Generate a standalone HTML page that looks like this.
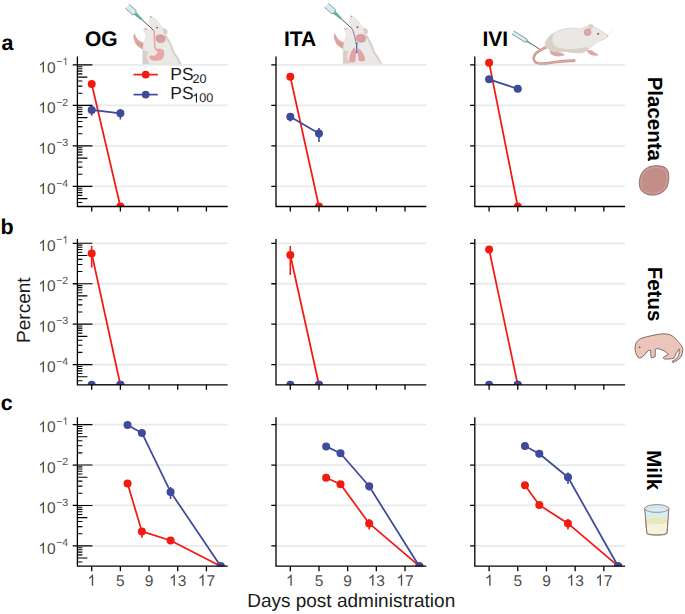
<!DOCTYPE html>
<html><head><meta charset="utf-8"><style>
html,body{margin:0;padding:0;background:#fff;}
svg{display:block;font-family:"Liberation Sans",sans-serif;text-rendering:geometricPrecision;}
</style></head><body>
<svg width="685" height="614" viewBox="0 0 685 614">
<rect width="685" height="614" fill="#fff"/>
<defs><clipPath id="p00"><rect x="77.4" y="46.4" width="150.3" height="160.1"/></clipPath><clipPath id="p01"><rect x="276" y="46.4" width="150.3" height="160.1"/></clipPath><clipPath id="p02"><rect x="474.8" y="46.4" width="150.3" height="160.1"/></clipPath><clipPath id="p10"><rect x="77.4" y="229.1" width="150.3" height="155.7"/></clipPath><clipPath id="p11"><rect x="276" y="229.1" width="150.3" height="155.7"/></clipPath><clipPath id="p12"><rect x="474.8" y="229.1" width="150.3" height="155.7"/></clipPath><clipPath id="p20"><rect x="77.4" y="407.2" width="150.3" height="159"/></clipPath><clipPath id="p21"><rect x="276" y="407.2" width="150.3" height="159"/></clipPath><clipPath id="p22"><rect x="474.8" y="407.2" width="150.3" height="159"/></clipPath></defs>
<line x1="77.4" y1="64.9" x2="227.7" y2="64.9" stroke="#EAEAEA" stroke-width="1.8"/>
<line x1="77.4" y1="105.4" x2="227.7" y2="105.4" stroke="#EAEAEA" stroke-width="1.8"/>
<line x1="77.4" y1="145.9" x2="227.7" y2="145.9" stroke="#EAEAEA" stroke-width="1.8"/>
<line x1="77.4" y1="186.4" x2="227.7" y2="186.4" stroke="#EAEAEA" stroke-width="1.8"/>
<path d="M77.4 202.52h5M77.4 198.59h10M77.4 195.38h5M77.4 192.67h5M77.4 190.32h5M77.4 188.25h5M77.4 186.4h15M77.4 174.21h5M77.4 167.08h5M77.4 162.02h5M77.4 158.09h10M77.4 154.88h5M77.4 152.17h5M77.4 149.82h5M77.4 147.75h5M77.4 145.9h15M77.4 133.71h5M77.4 126.58h5M77.4 121.52h5M77.4 117.59h10M77.4 114.38h5M77.4 111.67h5M77.4 109.32h5M77.4 107.25h5M77.4 105.4h15M77.4 93.21h5M77.4 86.08h5M77.4 81.02h5M77.4 77.09h10M77.4 73.88h5M77.4 71.17h5M77.4 68.82h5M77.4 66.75h5M77.4 64.9h15" stroke="#000000" stroke-width="1.1" fill="none"/>
<path d="M72.7 64.9H77.4M72.7 105.4H77.4M72.7 145.9H77.4M72.7 186.4H77.4" stroke="#000000" stroke-width="1.3" fill="none"/>
<path d="M91.7 206.5v5M120.38 206.5v5M149.06 206.5v5M177.74 206.5v5M206.42 206.5v5" stroke="#000000" stroke-width="1.3" fill="none"/>
<g clip-path="url(#p00)"><polyline points="91.7,84 120.38,206.5" fill="none" stroke="#F31A10" stroke-width="1.75" stroke-linejoin="round"/><polyline points="91.7,109.9 120.38,113.3" fill="none" stroke="#3E4A9A" stroke-width="1.75" stroke-linejoin="round"/><line x1="91.7" y1="106.4" x2="91.7" y2="115.7" stroke="#3E4A9A" stroke-width="1.6"/><line x1="120.38" y1="109.2" x2="120.38" y2="119.6" stroke="#3E4A9A" stroke-width="1.6"/><circle cx="91.7" cy="84" r="4.0" fill="#F31A10"/><circle cx="120.38" cy="206.5" r="4.0" fill="#F31A10"/><circle cx="91.7" cy="109.9" r="4.0" fill="#3E4A9A"/><circle cx="120.38" cy="113.3" r="4.0" fill="#3E4A9A"/></g>
<path d="M77.4 56.4V206.5H227.7" stroke="#000000" stroke-width="1.3" fill="none" stroke-linejoin="miter"/>
<line x1="276" y1="64.9" x2="426.3" y2="64.9" stroke="#EAEAEA" stroke-width="1.8"/>
<line x1="276" y1="105.4" x2="426.3" y2="105.4" stroke="#EAEAEA" stroke-width="1.8"/>
<line x1="276" y1="145.9" x2="426.3" y2="145.9" stroke="#EAEAEA" stroke-width="1.8"/>
<line x1="276" y1="186.4" x2="426.3" y2="186.4" stroke="#EAEAEA" stroke-width="1.8"/>
<path d="M271.3 64.9H276M271.3 105.4H276M271.3 145.9H276M271.3 186.4H276" stroke="#000000" stroke-width="1.3" fill="none"/>
<path d="M290.3 206.5v5M318.98 206.5v5M347.66 206.5v5M376.34 206.5v5M405.02 206.5v5" stroke="#000000" stroke-width="1.3" fill="none"/>
<g clip-path="url(#p01)"><polyline points="290.3,76.7 318.98,206.5" fill="none" stroke="#F31A10" stroke-width="1.75" stroke-linejoin="round"/><polyline points="290.3,116.7 318.98,133.4" fill="none" stroke="#3E4A9A" stroke-width="1.75" stroke-linejoin="round"/><line x1="290.3" y1="114" x2="290.3" y2="121.6" stroke="#3E4A9A" stroke-width="1.6"/><line x1="318.98" y1="128.1" x2="318.98" y2="141.9" stroke="#3E4A9A" stroke-width="1.6"/><circle cx="290.3" cy="76.7" r="4.0" fill="#F31A10"/><circle cx="318.98" cy="206.5" r="4.0" fill="#F31A10"/><circle cx="290.3" cy="116.7" r="4.0" fill="#3E4A9A"/><circle cx="318.98" cy="133.4" r="4.0" fill="#3E4A9A"/></g>
<path d="M276 56.4V206.5H426.3" stroke="#000000" stroke-width="1.3" fill="none" stroke-linejoin="miter"/>
<line x1="474.8" y1="64.9" x2="625.1" y2="64.9" stroke="#EAEAEA" stroke-width="1.8"/>
<line x1="474.8" y1="105.4" x2="625.1" y2="105.4" stroke="#EAEAEA" stroke-width="1.8"/>
<line x1="474.8" y1="145.9" x2="625.1" y2="145.9" stroke="#EAEAEA" stroke-width="1.8"/>
<line x1="474.8" y1="186.4" x2="625.1" y2="186.4" stroke="#EAEAEA" stroke-width="1.8"/>
<path d="M470.1 64.9H474.8M470.1 105.4H474.8M470.1 145.9H474.8M470.1 186.4H474.8" stroke="#000000" stroke-width="1.3" fill="none"/>
<path d="M489.1 206.5v5M517.78 206.5v5M546.46 206.5v5M575.14 206.5v5M603.82 206.5v5" stroke="#000000" stroke-width="1.3" fill="none"/>
<g clip-path="url(#p02)"><polyline points="489.1,62.7 517.78,206.5" fill="none" stroke="#F31A10" stroke-width="1.75" stroke-linejoin="round"/><polyline points="489.1,79.3 517.78,88.8" fill="none" stroke="#3E4A9A" stroke-width="1.75" stroke-linejoin="round"/><circle cx="489.1" cy="62.7" r="4.0" fill="#F31A10"/><circle cx="517.78" cy="206.5" r="4.0" fill="#F31A10"/><circle cx="489.1" cy="79.3" r="4.0" fill="#3E4A9A"/><circle cx="517.78" cy="88.8" r="4.0" fill="#3E4A9A"/></g>
<path d="M474.8 56.4V206.5H625.1" stroke="#000000" stroke-width="1.3" fill="none" stroke-linejoin="miter"/>
<path transform="translate(38.26,72.6) scale(0.007568,-0.007568)" d="M763 0H583V1147Q518 1085 412.5 1023T223 930V1104Q374 1175 487 1276T647 1472H763V0Z" fill="#4D4D4D"/><text x="46.88" y="72.6" font-size="15.5" fill="#4D4D4D">0</text>
<text x="56.23" y="65" font-size="10.5" fill="#4D4D4D">−</text><path transform="translate(62.36,65) scale(0.005127,-0.005127)" d="M763 0H583V1147Q518 1085 412.5 1023T223 930V1104Q374 1175 487 1276T647 1472H763V0Z" fill="#4D4D4D"/>
<path transform="translate(38.26,113.1) scale(0.007568,-0.007568)" d="M763 0H583V1147Q518 1085 412.5 1023T223 930V1104Q374 1175 487 1276T647 1472H763V0Z" fill="#4D4D4D"/><text x="46.88" y="113.1" font-size="15.5" fill="#4D4D4D">0</text>
<text x="56.23" y="105.5" font-size="10.5" fill="#4D4D4D">−2</text>
<path transform="translate(38.26,153.6) scale(0.007568,-0.007568)" d="M763 0H583V1147Q518 1085 412.5 1023T223 930V1104Q374 1175 487 1276T647 1472H763V0Z" fill="#4D4D4D"/><text x="46.88" y="153.6" font-size="15.5" fill="#4D4D4D">0</text>
<text x="56.23" y="146" font-size="10.5" fill="#4D4D4D">−3</text>
<path transform="translate(38.26,194.1) scale(0.007568,-0.007568)" d="M763 0H583V1147Q518 1085 412.5 1023T223 930V1104Q374 1175 487 1276T647 1472H763V0Z" fill="#4D4D4D"/><text x="46.88" y="194.1" font-size="15.5" fill="#4D4D4D">0</text>
<text x="56.23" y="186.5" font-size="10.5" fill="#4D4D4D">−4</text>
<line x1="77.4" y1="243.3" x2="227.7" y2="243.3" stroke="#EAEAEA" stroke-width="1.8"/>
<line x1="77.4" y1="283.73" x2="227.7" y2="283.73" stroke="#EAEAEA" stroke-width="1.8"/>
<line x1="77.4" y1="324.16" x2="227.7" y2="324.16" stroke="#EAEAEA" stroke-width="1.8"/>
<line x1="77.4" y1="364.59" x2="227.7" y2="364.59" stroke="#EAEAEA" stroke-width="1.8"/>
<path d="M77.4 380.68h5M77.4 376.76h10M77.4 373.56h5M77.4 370.85h5M77.4 368.51h5M77.4 366.44h5M77.4 364.59h15M77.4 352.42h5M77.4 345.3h5M77.4 340.25h5M77.4 336.33h10M77.4 333.13h5M77.4 330.42h5M77.4 328.08h5M77.4 326.01h5M77.4 324.16h15M77.4 311.99h5M77.4 304.87h5M77.4 299.82h5M77.4 295.9h10M77.4 292.7h5M77.4 289.99h5M77.4 287.65h5M77.4 285.58h5M77.4 283.73h15M77.4 271.56h5M77.4 264.44h5M77.4 259.39h5M77.4 255.47h10M77.4 252.27h5M77.4 249.56h5M77.4 247.22h5M77.4 245.15h5M77.4 243.3h15" stroke="#000000" stroke-width="1.1" fill="none"/>
<path d="M72.7 243.3H77.4M72.7 283.73H77.4M72.7 324.16H77.4M72.7 364.59H77.4" stroke="#000000" stroke-width="1.3" fill="none"/>
<path d="M91.7 384.8v5M120.38 384.8v5M149.06 384.8v5M177.74 384.8v5M206.42 384.8v5" stroke="#000000" stroke-width="1.3" fill="none"/>
<g clip-path="url(#p10)"><polyline points="91.7,253.4 120.38,384.8" fill="none" stroke="#F31A10" stroke-width="1.75" stroke-linejoin="round"/><polyline points="91.7,384.8 120.38,384.8" fill="none" stroke="#3E4A9A" stroke-width="1.75" stroke-linejoin="round"/><line x1="91.7" y1="246.1" x2="91.7" y2="267.6" stroke="#F31A10" stroke-width="1.6"/><circle cx="91.7" cy="253.4" r="4.0" fill="#F31A10"/><circle cx="120.38" cy="384.8" r="4.0" fill="#F31A10"/><circle cx="91.7" cy="384.8" r="4.0" fill="#3E4A9A"/><circle cx="120.38" cy="384.8" r="4.0" fill="#3E4A9A"/></g>
<path d="M77.4 239.1V384.8H227.7" stroke="#000000" stroke-width="1.3" fill="none" stroke-linejoin="miter"/>
<line x1="276" y1="243.3" x2="426.3" y2="243.3" stroke="#EAEAEA" stroke-width="1.8"/>
<line x1="276" y1="283.73" x2="426.3" y2="283.73" stroke="#EAEAEA" stroke-width="1.8"/>
<line x1="276" y1="324.16" x2="426.3" y2="324.16" stroke="#EAEAEA" stroke-width="1.8"/>
<line x1="276" y1="364.59" x2="426.3" y2="364.59" stroke="#EAEAEA" stroke-width="1.8"/>
<path d="M271.3 243.3H276M271.3 283.73H276M271.3 324.16H276M271.3 364.59H276" stroke="#000000" stroke-width="1.3" fill="none"/>
<path d="M290.3 384.8v5M318.98 384.8v5M347.66 384.8v5M376.34 384.8v5M405.02 384.8v5" stroke="#000000" stroke-width="1.3" fill="none"/>
<g clip-path="url(#p11)"><polyline points="290.3,255 318.98,384.8" fill="none" stroke="#F31A10" stroke-width="1.75" stroke-linejoin="round"/><polyline points="290.3,384.8 318.98,384.8" fill="none" stroke="#3E4A9A" stroke-width="1.75" stroke-linejoin="round"/><line x1="290.3" y1="246" x2="290.3" y2="274.9" stroke="#F31A10" stroke-width="1.6"/><circle cx="290.3" cy="255" r="4.0" fill="#F31A10"/><circle cx="318.98" cy="384.8" r="4.0" fill="#F31A10"/><circle cx="290.3" cy="384.8" r="4.0" fill="#3E4A9A"/><circle cx="318.98" cy="384.8" r="4.0" fill="#3E4A9A"/></g>
<path d="M276 239.1V384.8H426.3" stroke="#000000" stroke-width="1.3" fill="none" stroke-linejoin="miter"/>
<line x1="474.8" y1="243.3" x2="625.1" y2="243.3" stroke="#EAEAEA" stroke-width="1.8"/>
<line x1="474.8" y1="283.73" x2="625.1" y2="283.73" stroke="#EAEAEA" stroke-width="1.8"/>
<line x1="474.8" y1="324.16" x2="625.1" y2="324.16" stroke="#EAEAEA" stroke-width="1.8"/>
<line x1="474.8" y1="364.59" x2="625.1" y2="364.59" stroke="#EAEAEA" stroke-width="1.8"/>
<path d="M470.1 243.3H474.8M470.1 283.73H474.8M470.1 324.16H474.8M470.1 364.59H474.8" stroke="#000000" stroke-width="1.3" fill="none"/>
<path d="M489.1 384.8v5M517.78 384.8v5M546.46 384.8v5M575.14 384.8v5M603.82 384.8v5" stroke="#000000" stroke-width="1.3" fill="none"/>
<g clip-path="url(#p12)"><polyline points="489.1,249.5 517.78,384.8" fill="none" stroke="#F31A10" stroke-width="1.75" stroke-linejoin="round"/><polyline points="489.1,384.8 517.78,384.8" fill="none" stroke="#3E4A9A" stroke-width="1.75" stroke-linejoin="round"/><circle cx="489.1" cy="249.5" r="4.0" fill="#F31A10"/><circle cx="517.78" cy="384.8" r="4.0" fill="#F31A10"/><circle cx="489.1" cy="384.8" r="4.0" fill="#3E4A9A"/><circle cx="517.78" cy="384.8" r="4.0" fill="#3E4A9A"/></g>
<path d="M474.8 239.1V384.8H625.1" stroke="#000000" stroke-width="1.3" fill="none" stroke-linejoin="miter"/>
<path transform="translate(38.26,251) scale(0.007568,-0.007568)" d="M763 0H583V1147Q518 1085 412.5 1023T223 930V1104Q374 1175 487 1276T647 1472H763V0Z" fill="#4D4D4D"/><text x="46.88" y="251" font-size="15.5" fill="#4D4D4D">0</text>
<text x="56.23" y="243.4" font-size="10.5" fill="#4D4D4D">−</text><path transform="translate(62.36,243.4) scale(0.005127,-0.005127)" d="M763 0H583V1147Q518 1085 412.5 1023T223 930V1104Q374 1175 487 1276T647 1472H763V0Z" fill="#4D4D4D"/>
<path transform="translate(38.26,291.43) scale(0.007568,-0.007568)" d="M763 0H583V1147Q518 1085 412.5 1023T223 930V1104Q374 1175 487 1276T647 1472H763V0Z" fill="#4D4D4D"/><text x="46.88" y="291.43" font-size="15.5" fill="#4D4D4D">0</text>
<text x="56.23" y="283.83" font-size="10.5" fill="#4D4D4D">−2</text>
<path transform="translate(38.26,331.86) scale(0.007568,-0.007568)" d="M763 0H583V1147Q518 1085 412.5 1023T223 930V1104Q374 1175 487 1276T647 1472H763V0Z" fill="#4D4D4D"/><text x="46.88" y="331.86" font-size="15.5" fill="#4D4D4D">0</text>
<text x="56.23" y="324.26" font-size="10.5" fill="#4D4D4D">−3</text>
<path transform="translate(38.26,372.29) scale(0.007568,-0.007568)" d="M763 0H583V1147Q518 1085 412.5 1023T223 930V1104Q374 1175 487 1276T647 1472H763V0Z" fill="#4D4D4D"/><text x="46.88" y="372.29" font-size="15.5" fill="#4D4D4D">0</text>
<text x="56.23" y="364.69" font-size="10.5" fill="#4D4D4D">−4</text>
<line x1="77.4" y1="424.6" x2="227.7" y2="424.6" stroke="#EAEAEA" stroke-width="1.8"/>
<line x1="77.4" y1="465.03" x2="227.7" y2="465.03" stroke="#EAEAEA" stroke-width="1.8"/>
<line x1="77.4" y1="505.46" x2="227.7" y2="505.46" stroke="#EAEAEA" stroke-width="1.8"/>
<line x1="77.4" y1="545.89" x2="227.7" y2="545.89" stroke="#EAEAEA" stroke-width="1.8"/>
<path d="M77.4 561.98h5M77.4 558.06h10M77.4 554.86h5M77.4 552.15h5M77.4 549.81h5M77.4 547.74h5M77.4 545.89h15M77.4 533.72h5M77.4 526.6h5M77.4 521.55h5M77.4 517.63h10M77.4 514.43h5M77.4 511.72h5M77.4 509.38h5M77.4 507.31h5M77.4 505.46h15M77.4 493.29h5M77.4 486.17h5M77.4 481.12h5M77.4 477.2h10M77.4 474h5M77.4 471.29h5M77.4 468.95h5M77.4 466.88h5M77.4 465.03h15M77.4 452.86h5M77.4 445.74h5M77.4 440.69h5M77.4 436.77h10M77.4 433.57h5M77.4 430.86h5M77.4 428.52h5M77.4 426.45h5M77.4 424.6h15" stroke="#000000" stroke-width="1.1" fill="none"/>
<path d="M72.7 424.6H77.4M72.7 465.03H77.4M72.7 505.46H77.4M72.7 545.89H77.4" stroke="#000000" stroke-width="1.3" fill="none"/>
<path d="M91.7 566.2v5M120.38 566.2v5M149.06 566.2v5M177.74 566.2v5M206.42 566.2v5" stroke="#000000" stroke-width="1.3" fill="none"/>
<g clip-path="url(#p20)"><polyline points="127.55,483.6 141.89,531.4 170.57,540.5 220.76,566.2" fill="none" stroke="#F31A10" stroke-width="1.75" stroke-linejoin="round"/><polyline points="127.55,425 141.89,432.9 170.57,491.9 220.76,566.2" fill="none" stroke="#3E4A9A" stroke-width="1.75" stroke-linejoin="round"/><line x1="141.89" y1="528" x2="141.89" y2="537.8" stroke="#F31A10" stroke-width="1.6"/><line x1="170.57" y1="487" x2="170.57" y2="499" stroke="#3E4A9A" stroke-width="1.6"/><circle cx="127.55" cy="483.6" r="4.0" fill="#F31A10"/><circle cx="141.89" cy="531.4" r="4.0" fill="#F31A10"/><circle cx="170.57" cy="540.5" r="4.0" fill="#F31A10"/><circle cx="220.76" cy="566.2" r="4.0" fill="#F31A10"/><circle cx="127.55" cy="425" r="4.0" fill="#3E4A9A"/><circle cx="141.89" cy="432.9" r="4.0" fill="#3E4A9A"/><circle cx="170.57" cy="491.9" r="4.0" fill="#3E4A9A"/><circle cx="220.76" cy="566.2" r="4.0" fill="#3E4A9A"/></g>
<path d="M77.4 417.2V566.2H227.7" stroke="#000000" stroke-width="1.3" fill="none" stroke-linejoin="miter"/>
<line x1="276" y1="424.6" x2="426.3" y2="424.6" stroke="#EAEAEA" stroke-width="1.8"/>
<line x1="276" y1="465.03" x2="426.3" y2="465.03" stroke="#EAEAEA" stroke-width="1.8"/>
<line x1="276" y1="505.46" x2="426.3" y2="505.46" stroke="#EAEAEA" stroke-width="1.8"/>
<line x1="276" y1="545.89" x2="426.3" y2="545.89" stroke="#EAEAEA" stroke-width="1.8"/>
<path d="M271.3 424.6H276M271.3 465.03H276M271.3 505.46H276M271.3 545.89H276" stroke="#000000" stroke-width="1.3" fill="none"/>
<path d="M290.3 566.2v5M318.98 566.2v5M347.66 566.2v5M376.34 566.2v5M405.02 566.2v5" stroke="#000000" stroke-width="1.3" fill="none"/>
<g clip-path="url(#p21)"><polyline points="326.15,477.7 340.49,484.3 369.17,523.4 419.36,566.2" fill="none" stroke="#F31A10" stroke-width="1.75" stroke-linejoin="round"/><polyline points="326.15,446.4 340.49,453.2 369.17,486.3 419.36,566.2" fill="none" stroke="#3E4A9A" stroke-width="1.75" stroke-linejoin="round"/><line x1="369.17" y1="519" x2="369.17" y2="529.5" stroke="#F31A10" stroke-width="1.6"/><line x1="369.17" y1="483" x2="369.17" y2="490.6" stroke="#3E4A9A" stroke-width="1.6"/><circle cx="326.15" cy="477.7" r="4.0" fill="#F31A10"/><circle cx="340.49" cy="484.3" r="4.0" fill="#F31A10"/><circle cx="369.17" cy="523.4" r="4.0" fill="#F31A10"/><circle cx="419.36" cy="566.2" r="4.0" fill="#F31A10"/><circle cx="326.15" cy="446.4" r="4.0" fill="#3E4A9A"/><circle cx="340.49" cy="453.2" r="4.0" fill="#3E4A9A"/><circle cx="369.17" cy="486.3" r="4.0" fill="#3E4A9A"/><circle cx="419.36" cy="566.2" r="4.0" fill="#3E4A9A"/></g>
<path d="M276 417.2V566.2H426.3" stroke="#000000" stroke-width="1.3" fill="none" stroke-linejoin="miter"/>
<line x1="474.8" y1="424.6" x2="625.1" y2="424.6" stroke="#EAEAEA" stroke-width="1.8"/>
<line x1="474.8" y1="465.03" x2="625.1" y2="465.03" stroke="#EAEAEA" stroke-width="1.8"/>
<line x1="474.8" y1="505.46" x2="625.1" y2="505.46" stroke="#EAEAEA" stroke-width="1.8"/>
<line x1="474.8" y1="545.89" x2="625.1" y2="545.89" stroke="#EAEAEA" stroke-width="1.8"/>
<path d="M470.1 424.6H474.8M470.1 465.03H474.8M470.1 505.46H474.8M470.1 545.89H474.8" stroke="#000000" stroke-width="1.3" fill="none"/>
<path d="M489.1 566.2v5M517.78 566.2v5M546.46 566.2v5M575.14 566.2v5M603.82 566.2v5" stroke="#000000" stroke-width="1.3" fill="none"/>
<g clip-path="url(#p22)"><polyline points="524.95,485.2 539.29,505 567.97,523.4 618.16,566.2" fill="none" stroke="#F31A10" stroke-width="1.75" stroke-linejoin="round"/><polyline points="524.95,446.1 539.29,453.7 567.97,477.3 618.16,566.2" fill="none" stroke="#3E4A9A" stroke-width="1.75" stroke-linejoin="round"/><line x1="567.97" y1="518.9" x2="567.97" y2="529.5" stroke="#F31A10" stroke-width="1.6"/><line x1="567.97" y1="472.5" x2="567.97" y2="483.9" stroke="#3E4A9A" stroke-width="1.6"/><circle cx="524.95" cy="485.2" r="4.0" fill="#F31A10"/><circle cx="539.29" cy="505" r="4.0" fill="#F31A10"/><circle cx="567.97" cy="523.4" r="4.0" fill="#F31A10"/><circle cx="618.16" cy="566.2" r="4.0" fill="#F31A10"/><circle cx="524.95" cy="446.1" r="4.0" fill="#3E4A9A"/><circle cx="539.29" cy="453.7" r="4.0" fill="#3E4A9A"/><circle cx="567.97" cy="477.3" r="4.0" fill="#3E4A9A"/><circle cx="618.16" cy="566.2" r="4.0" fill="#3E4A9A"/></g>
<path d="M474.8 417.2V566.2H625.1" stroke="#000000" stroke-width="1.3" fill="none" stroke-linejoin="miter"/>
<path transform="translate(38.26,432.3) scale(0.007568,-0.007568)" d="M763 0H583V1147Q518 1085 412.5 1023T223 930V1104Q374 1175 487 1276T647 1472H763V0Z" fill="#4D4D4D"/><text x="46.88" y="432.3" font-size="15.5" fill="#4D4D4D">0</text>
<text x="56.23" y="424.7" font-size="10.5" fill="#4D4D4D">−</text><path transform="translate(62.36,424.7) scale(0.005127,-0.005127)" d="M763 0H583V1147Q518 1085 412.5 1023T223 930V1104Q374 1175 487 1276T647 1472H763V0Z" fill="#4D4D4D"/>
<path transform="translate(38.26,472.73) scale(0.007568,-0.007568)" d="M763 0H583V1147Q518 1085 412.5 1023T223 930V1104Q374 1175 487 1276T647 1472H763V0Z" fill="#4D4D4D"/><text x="46.88" y="472.73" font-size="15.5" fill="#4D4D4D">0</text>
<text x="56.23" y="465.13" font-size="10.5" fill="#4D4D4D">−2</text>
<path transform="translate(38.26,513.16) scale(0.007568,-0.007568)" d="M763 0H583V1147Q518 1085 412.5 1023T223 930V1104Q374 1175 487 1276T647 1472H763V0Z" fill="#4D4D4D"/><text x="46.88" y="513.16" font-size="15.5" fill="#4D4D4D">0</text>
<text x="56.23" y="505.56" font-size="10.5" fill="#4D4D4D">−3</text>
<path transform="translate(38.26,553.59) scale(0.007568,-0.007568)" d="M763 0H583V1147Q518 1085 412.5 1023T223 930V1104Q374 1175 487 1276T647 1472H763V0Z" fill="#4D4D4D"/><text x="46.88" y="553.59" font-size="15.5" fill="#4D4D4D">0</text>
<text x="56.23" y="545.99" font-size="10.5" fill="#4D4D4D">−4</text>
<path transform="translate(87.39,585.7) scale(0.007568,-0.007568)" d="M763 0H583V1147Q518 1085 412.5 1023T223 930V1104Q374 1175 487 1276T647 1472H763V0Z" fill="#4D4D4D"/>
<text x="116.07" y="585.7" font-size="15.5" fill="#4D4D4D">5</text>
<text x="144.75" y="585.7" font-size="15.5" fill="#4D4D4D">9</text>
<path transform="translate(169.12,585.7) scale(0.007568,-0.007568)" d="M763 0H583V1147Q518 1085 412.5 1023T223 930V1104Q374 1175 487 1276T647 1472H763V0Z" fill="#4D4D4D"/><text x="177.74" y="585.7" font-size="15.5" fill="#4D4D4D">3</text>
<path transform="translate(197.8,585.7) scale(0.007568,-0.007568)" d="M763 0H583V1147Q518 1085 412.5 1023T223 930V1104Q374 1175 487 1276T647 1472H763V0Z" fill="#4D4D4D"/><text x="206.42" y="585.7" font-size="15.5" fill="#4D4D4D">7</text>
<path transform="translate(285.99,585.7) scale(0.007568,-0.007568)" d="M763 0H583V1147Q518 1085 412.5 1023T223 930V1104Q374 1175 487 1276T647 1472H763V0Z" fill="#4D4D4D"/>
<text x="314.67" y="585.7" font-size="15.5" fill="#4D4D4D">5</text>
<text x="343.35" y="585.7" font-size="15.5" fill="#4D4D4D">9</text>
<path transform="translate(367.72,585.7) scale(0.007568,-0.007568)" d="M763 0H583V1147Q518 1085 412.5 1023T223 930V1104Q374 1175 487 1276T647 1472H763V0Z" fill="#4D4D4D"/><text x="376.34" y="585.7" font-size="15.5" fill="#4D4D4D">3</text>
<path transform="translate(396.4,585.7) scale(0.007568,-0.007568)" d="M763 0H583V1147Q518 1085 412.5 1023T223 930V1104Q374 1175 487 1276T647 1472H763V0Z" fill="#4D4D4D"/><text x="405.02" y="585.7" font-size="15.5" fill="#4D4D4D">7</text>
<path transform="translate(484.79,585.7) scale(0.007568,-0.007568)" d="M763 0H583V1147Q518 1085 412.5 1023T223 930V1104Q374 1175 487 1276T647 1472H763V0Z" fill="#4D4D4D"/>
<text x="513.47" y="585.7" font-size="15.5" fill="#4D4D4D">5</text>
<text x="542.15" y="585.7" font-size="15.5" fill="#4D4D4D">9</text>
<path transform="translate(566.52,585.7) scale(0.007568,-0.007568)" d="M763 0H583V1147Q518 1085 412.5 1023T223 930V1104Q374 1175 487 1276T647 1472H763V0Z" fill="#4D4D4D"/><text x="575.14" y="585.7" font-size="15.5" fill="#4D4D4D">3</text>
<path transform="translate(595.2,585.7) scale(0.007568,-0.007568)" d="M763 0H583V1147Q518 1085 412.5 1023T223 930V1104Q374 1175 487 1276T647 1472H763V0Z" fill="#4D4D4D"/><text x="603.82" y="585.7" font-size="15.5" fill="#4D4D4D">7</text>
<text x="85" y="45.7" font-size="21" font-weight="bold">OG</text>
<text x="284" y="45.7" font-size="21" font-weight="bold">ITA</text>
<text x="482.5" y="45.7" font-size="21" font-weight="bold">IVI</text>
<text x="1.5" y="50.3" font-size="21.5" font-weight="bold">a</text>
<text x="0.5" y="234.3" font-size="21.5" font-weight="bold">b</text>
<text x="0.8" y="409.7" font-size="21.5" font-weight="bold">c</text>
<line x1="133.5" y1="74.6" x2="157.8" y2="74.6" stroke="#F31A10" stroke-width="1.7"/><circle cx="145.7" cy="74.6" r="3.9" fill="#F31A10"/>
<line x1="133.5" y1="94.6" x2="157.8" y2="94.6" stroke="#3E4A9A" stroke-width="1.7"/><circle cx="145.7" cy="94.6" r="3.9" fill="#3E4A9A"/>
<text x="170.3" y="79.6" font-size="17.4" fill="#1a1a1a">PS</text><text x="192.5" y="82.6" font-size="12.6" fill="#1a1a1a">20</text>
<text x="170.3" y="99.0" font-size="17.4" fill="#1a1a1a">PS</text>
<path transform="translate(192.3,102.4) scale(0.006152,-0.006152)" d="M763 0H583V1147Q518 1085 412.5 1023T223 930V1104Q374 1175 487 1276T647 1472H763V0Z" fill="#1a1a1a"/><text x="199.31" y="102.4" font-size="12.6" fill="#1a1a1a">00</text>
<text transform="translate(648,118.8) rotate(90)" font-size="20.5" font-weight="bold" text-anchor="middle">Placenta</text>
<text transform="translate(647.5,294) rotate(90)" font-size="20.5" font-weight="bold" text-anchor="middle">Fetus</text>
<text transform="translate(647,470.2) rotate(90)" font-size="20.5" font-weight="bold" text-anchor="middle">Milk</text>
<text transform="translate(30,310.2) rotate(-90)" font-size="19" text-anchor="middle" fill="#1a1a1a">Percent</text>
<text x="351.2" y="607.3" font-size="19" text-anchor="middle" fill="#1a1a1a">Days post administration</text>
<!-- placenta -->
<path d="M653.5,165.9 C660,165.4 665.6,166.2 667.6,170.3 C669.6,175 668.7,182 667.4,186 C665.8,190.5 660.8,194.6 653.5,195.1 C647,195.4 642,192.6 640.1,188.2 C638.4,183 639.6,176 642.6,171.8 C645.2,168.3 649.2,166.2 653.5,165.9 Z" fill="#C48E88" stroke="#8F6A65" stroke-width="0.9"/>
<path d="M653.5,167.6 C659.5,167.2 664.5,168 666.2,171.2 C667.8,175.5 667,181.5 665.8,185.4 C664.4,189.4 660,193 653.5,193.4 C647.6,193.6 643.4,191.2 641.8,187.6 C640.3,183 641.3,176.6 644,172.8 C646.4,169.6 649.7,167.9 653.5,167.6 Z" fill="none" stroke="#D9A9A3" stroke-width="0.7"/>
<!-- fetus -->
<path d="M636.6,341.9 C638.5,339.8 640,338.6 642.1,338.1 C645,337.2 648,336.4 651.3,335.7 C655,334.9 659,334 663,333.8 C666,333.7 668.8,334.2 670.7,335 C673.5,336.5 676,338.8 677.7,341.2 C679.4,343 680.8,344.5 681.5,345.8 C682.4,347.5 682.9,349 682.7,350.4 C682.5,352.6 682.2,354.5 681.5,355.9 C680.2,358 678.6,359.5 676.9,360.5 C675.6,361.4 674.2,362.1 673,362.4 C672.3,362.5 671.9,361.9 672.2,361.3 C674,360.2 675.8,359.3 676.9,358.2 C678.2,356.6 679,354.7 679.2,352.8 C679.5,351.2 679.4,349.9 679.2,348.9 C678.4,349.8 677.2,351.8 676.1,353.5 C675.3,355.5 674.7,357.2 673.8,358.2 C670.8,359 667.6,359.3 664.5,359 C663.6,358.8 663,358.1 663.3,357.4 C665,356.3 666.8,355.4 668.4,354.3 C667.9,353.7 667.4,353.2 666.8,352.8 C665.6,351.8 664.4,351 663,350.4 C661.2,349.6 659.4,349 657.5,348.5 C656.7,348.6 655.9,349.1 655.2,349.7 L655.2,356.6 C654,357.4 652.6,357.8 651.3,357.8 C650.7,355.4 650.5,352.8 650.6,350.4 C649.8,350.3 649,350.3 648.3,350.4 C646.8,352.3 645.2,354.2 643.6,355.9 C642.3,357 641,357.9 639.7,358.2 C638.2,357.6 637.2,356.4 636.6,355.1 C635.8,353.4 635.3,351.6 635.1,349.7 C635,348 635.1,346.4 635.5,345 C635.8,343.9 636.1,342.8 636.6,341.9 Z" fill="#EBC5B9" stroke="#5B4641" stroke-width="0.75" stroke-linejoin="round"/>
<circle cx="639.7" cy="347.3" r="0.8" fill="#4a3a36"/>
<!-- milk cup -->
<path d="M644.8,508.6 L646.8,533.3 C647.5,535.6 666.3,535.6 667,533.3 L668.8,508.6 Z" fill="#F2F4DD" stroke="#8B6A62" stroke-width="0.8"/>
<path d="M644.9,508.6 L645.7,519.8 C648,516.8 666,516.8 668,519.8 L668.8,508.6 Z" fill="#D6EEF1"/>
<path d="M645.7,519.8 C648,516.8 666,516.8 668,519.8 L667.8,522.2 C665.5,524.6 648,524.6 645.9,522.2 Z" fill="#E6E8B7"/>
<path d="M644.8,508.6 L646.8,533.3 C647.5,535.6 666.3,535.6 667,533.3 L668.8,508.6" fill="none" stroke="#8B6A62" stroke-width="0.8"/>
<ellipse cx="656.8" cy="508.5" rx="12.1" ry="3.9" fill="#D6EEF1" stroke="#8B6A62" stroke-width="0.8"/>
<ellipse cx="656.8" cy="509.6" rx="10.3" ry="2.6" fill="none" stroke="#B9CFD2" stroke-width="0.5"/>
<defs>
<g id="mbody">
<path d="M134.1,33.6 C133.1,35.9 133.2,38.8 134.5,41 C135.1,43.6 137.4,46.4 140.4,48.2 L143.2,49.6 L143.6,42.4 C141.1,41.9 138.9,40.8 137.4,39.2 C136.3,37.6 136,35.5 134.1,33.6 Z" fill="#DFA5A2"/>
<path d="M135.4,42.8 C137.6,44 140.2,44.8 143.4,45.4" fill="none" stroke="#C98C8B" stroke-width="0.6"/>
<path d="M150.6,16.6 C152.5,16.2 155,18.5 157.6,21.3 C159.5,23.6 161.3,26.3 163,28.9 C164.5,31 165.5,33 166,35 C168.5,38.8 171.5,43.6 174.1,52.1 C176.8,55.5 179.2,59.5 181.2,64 L142.8,64 C142.6,58 142.8,53 142.8,49.6 C143.2,46 143.5,43 143.9,41.3 C144.8,39.5 145.6,38.4 146.2,36.5 C146.2,34.8 145.4,33 144.5,31.5 C144,30.6 143.5,29.8 143.4,29 C145,28.5 147,28.6 148.5,29.3 C150,29.8 151.5,30.2 152.8,30.4 C151.5,28.5 150.2,26.2 149.7,24 C149.3,22 149.5,19.5 149.9,18 C150.1,17.3 150.3,16.9 150.6,16.6 Z" fill="#EBE9E6" stroke="#DCD5CD" stroke-width="0.5"/>
<path d="M166,35 C168.5,38.8 171.5,43.6 174.1,52.1 C176.8,55.5 179.2,59.5 181.2,64 L179.6,64 C177.4,59.5 175,56 172.6,52.8 C170.2,45 167.4,40 164.9,36.6 Z" fill="#D6CEC4"/>
<path d="M142.8,64 C142.6,58 142.8,53 142.8,49.6 C144.6,50.6 146.8,51.5 148.9,52.5 C147.2,54 146.4,55.6 146.8,57.6 C147.6,59.6 148.6,61.8 149.6,64 Z" fill="#D8D0C6"/>
<path d="M163,28.9 C164,28.4 165.2,28.6 166.2,29.6 C167.3,30.6 167.6,32.2 166.9,33.4 C166.3,34.3 165.2,34.5 164.4,34 C163.9,32.4 163.5,30.6 163,28.9 Z" fill="#D8D0C7" stroke="#C9BFB4" stroke-width="0.4"/>
<path d="M156.2,36.2 C157.6,34.8 160.6,34.5 163,35.2 C165,36 165.6,38.6 165,40.6 C164.2,42.4 161.8,43 159.4,42.6 C157.2,42.2 155.9,40.6 155.8,38.6 C155.8,37.6 155.9,36.8 156.2,36.2 Z" fill="#D9A09F" stroke="#C98F8E" stroke-width="0.5"/>
<circle cx="157.1" cy="27.6" r="0.95" fill="#B5423F"/>
<circle cx="150.9" cy="16.9" r="0.9" fill="#E39C9C"/>
<path d="M143.5,29 C145,28.4 146.8,28.5 148.3,29.2 C146.8,29.8 145,29.7 143.5,29 Z" fill="#DF9E9C"/>
</g>
</defs>
<!-- OG mouse -->
<use href="#mbody"/>
<path d="M154.3,30.8 C154.3,37 154.4,43 155.1,47.8 C155.6,49.6 156.3,50.4 157.2,50.6" fill="none" stroke="#E9A4A4" stroke-width="1.5"/>
<path d="M156,49 C158.5,48.8 162,48.8 163.5,50.6 C164.4,52.8 164.2,56.4 162.4,58.6 C160.4,60.4 156.6,60.8 153.4,60.4 C151.3,60 149.8,58.9 149.4,57.6 C149.2,56.6 149.5,55.9 150.3,55.7 C151.6,55.8 152.8,56.2 154,56.1 C155.8,55.8 157.3,54.6 157.7,52.6 C157.8,51.4 157.2,50 156,49 Z" fill="#EBA7A8" stroke="#DE9898" stroke-width="0.4"/>
<g transform="translate(127.3,6.2) rotate(42.6)">
<path d="M0,-2.8 H9.4 L10.6,-1.3 V1.3 L9.4,2.8 H0 Z" fill="#D4ECF5"/><path d="M0,-2.8 H9.4 L10.6,-1.3 M0,2.8 H9.4 L10.6,1.3" fill="none" stroke="#5A5A5A" stroke-width="0.6"/>
<path d="M10.6,-1.4 L19.6,-0.8 V0.8 L10.6,1.4 Z" fill="#5DBB93" stroke="#3F8E6D" stroke-width="0.4"/>
<line x1="19.6" y1="0" x2="35.8" y2="0" stroke="#4A4A4A" stroke-width="0.9"/>
</g>
<!-- ITA mouse -->
<use href="#mbody" transform="translate(200.4,-0.4)"/>
<path d="M349.3,61.8 C349,56.5 350.5,51 354.2,47.4 C355.6,48.5 355.9,52 355.8,56 C355.6,59.5 355.4,61.6 354.5,62.2 C352.5,62.4 350.5,62.3 349.3,61.8 Z" fill="#E3A2A8"/>
<path d="M358,48.2 C361.5,50 364.6,54.5 365.2,60.5 C363.5,61.6 360.5,61.6 358.6,60.8 C357.9,57 357.8,52 358,48.2 Z" fill="#E3A2A8"/>
<path d="M352.6,29.4 C354,34 355.3,38.5 356.3,43.2" fill="none" stroke="#9A5C84" stroke-width="0.9"/>
<path d="M356.7,43 V53" stroke="#4F7BC4" stroke-width="1.5"/>
<path d="M355.2,43.3 H358.2 M355.4,52.6 H358 " stroke="#4F7BC4" stroke-width="0.8"/>
<g transform="translate(326.5,5.2) rotate(42.6)">
<path d="M0,-2.8 H9.4 L10.6,-1.3 V1.3 L9.4,2.8 H0 Z" fill="#D4ECF5"/><path d="M0,-2.8 H9.4 L10.6,-1.3 M0,2.8 H9.4 L10.6,1.3" fill="none" stroke="#5A5A5A" stroke-width="0.6"/>
<path d="M10.6,-1.4 L19.6,-0.8 V0.8 L10.6,1.4 Z" fill="#5DBB93" stroke="#3F8E6D" stroke-width="0.4"/>
<line x1="19.6" y1="0" x2="35.2" y2="0" stroke="#4A4A4A" stroke-width="0.9"/>
</g>
<!-- IVI mouse -->
<path d="M545.5,47.5 C542,49.5 537,51.5 534.8,54.7 C533.2,57.3 533.3,60.8 536.2,62.6 C540,64.5 547,63.5 553.9,62.3 C560,61.3 567,60.6 574.3,60.6" fill="none" stroke="#C28A87" stroke-width="2.6" stroke-linecap="round"/>
<path d="M545.5,47.5 C542,49.5 537,51.5 534.8,54.7 C533.2,57.3 533.3,60.8 536.2,62.6 C540,64.5 547,63.5 553.9,62.3 C560,61.3 567,60.6 574.3,60.6" fill="none" stroke="#E2ABA8" stroke-width="1.3" stroke-linecap="round"/>
<path d="M549.5,51 C550,53.5 552,55.8 556,56.3 C559.5,56.6 563,56 565,54.8 C563,53 558,52 553,51 Z" fill="#DFA6A2"/>
<path d="M586.5,50 C587.5,52.5 589.5,54.8 593,55.5 C595.5,55.9 597.8,55.8 598.5,55 C596.5,53.5 593.5,52 591.5,50.3 Z" fill="#DFA6A2"/>
<path d="M545,45.1 C545.5,40 549,35.5 553.9,33.2 C557.5,31 561.5,29.4 565.9,28.6 C571,27.8 576,28.2 580.3,29 C583,27.5 586,26.5 588.7,26 C591,25.8 593.2,26.3 594.6,27.2 C599,29 603.5,32 607.8,35.6 C607,37.5 605.8,38.6 604.2,39.2 C601.8,40.3 599.5,41.3 597,42.1 C594,44 591.4,46.6 588.7,48.7 C586.5,50.8 584,52.4 581.5,52.9 C576.5,53 571,52.4 565.9,51.7 C561.9,51.5 557.9,51.6 553.9,51.7 C551.5,51.2 549.5,50.2 548,48.7 C546.8,47.7 545.8,46.5 545,45.1 Z" fill="#EAE8E5" stroke="#D2C9BE" stroke-width="0.6"/>
<path d="M545,45.1 C545.5,40 549,35.5 553.9,33.2 C552.5,36.5 551.8,40 553,43.5 C555,47 560,48.6 566,49 C572,49.3 578,48.6 583,47.5 C585.5,47 587.5,47.5 588.7,48.7 C586.5,50.8 584,52.4 581.5,52.9 C576.5,53 571,52.4 565.9,51.7 C561.9,51.5 557.9,51.6 553.9,51.7 C551.5,51.2 549.5,50.2 548,48.7 C546.8,47.7 545.8,46.5 545,45.1 Z" fill="#D8D1C8"/>
<circle cx="590.8" cy="26.6" r="2.4" fill="#D9D2CA" stroke="#CCC3B8" stroke-width="0.4"/>
<circle cx="587.6" cy="32.2" r="3.5" fill="#DFA6A5" stroke="#CD9493" stroke-width="0.5"/>
<circle cx="598.2" cy="33.8" r="0.95" fill="#B3322F"/>
<circle cx="607.6" cy="35.7" r="0.8" fill="#E39C9C"/>
<path d="M608.5,33.5 L612,29.5 M608.5,34.5 L612.5,31.5" stroke="#E6E2DE" stroke-width="0.5"/>
<g transform="translate(512.7,32.45) rotate(31.7)">
<path d="M0,-1.85 H15.4 L16.2,-0.9 V0.9 L15.4,1.85 H0 Z" fill="#D4ECF5"/><path d="M0,-1.85 H15.4 L16.2,-0.9 M0,1.85 H15.4 L16.2,0.9" fill="none" stroke="#5A5A5A" stroke-width="0.55"/>
<path d="M16.2,-0.95 L21.8,-0.55 V0.55 L16.2,0.95 Z" fill="#5DBB93" stroke="#3F8E6D" stroke-width="0.35"/>
<line x1="21.8" y1="0" x2="31.8" y2="0" stroke="#4A4A4A" stroke-width="0.8"/>
</g>

</svg>
</body></html>
